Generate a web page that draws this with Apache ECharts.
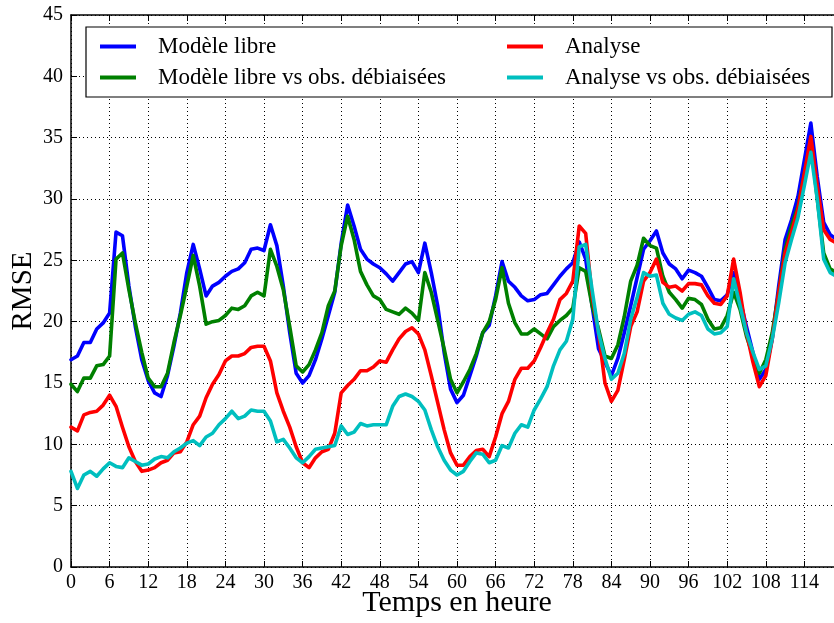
<!DOCTYPE html>
<html>
<head>
<meta charset="utf-8">
<script src="https://cdn.jsdelivr.net/npm/echarts@6/dist/echarts.min.js"></script>
<style>
  html, body { margin: 0; padding: 0; background: #fff; }
  #chart { width: 834px; height: 623px; }
</style>
</head>
<body>
<div id="chart"></div>
<script>
// RMSE par heure d'échéance (0 à 119 h)
const seriesNames = [
  'Modèle libre',
  'Modèle libre vs obs. débiaisées',
  'Analyse',
  'Analyse vs obs. débiaisées'
];
const xTitle = 'Temps en heure';
const yTitle = 'RMSE';

const modeleLibre = [
  16.9, 17.2, 18.3, 18.3, 19.4, 19.9, 20.7, 27.3, 27.0, 22.9,
  19.6, 16.9, 15.2, 14.2, 13.9, 15.6, 18.0, 20.7, 24.0, 26.3,
  24.3, 22.1, 22.9, 23.2, 23.7, 24.1, 24.3, 24.8, 25.9, 26.0,
  25.8, 27.9, 26.2, 22.9, 19.1, 15.8, 15.0, 15.6, 16.9, 18.6,
  20.5, 22.4, 26.4, 29.5, 27.8, 25.9, 25.1, 24.7, 24.4, 23.9,
  23.3, 24.0, 24.7, 24.9, 24.0, 26.4, 24.0, 21.3, 17.5, 14.5,
  13.4, 14.0, 15.6, 17.2, 19.1, 19.7, 22.1, 24.9, 23.3, 22.8,
  22.1, 21.7, 21.8, 22.2, 22.3, 23.0, 23.7, 24.3, 24.8, 26.5,
  25.1, 21.3, 17.8, 16.7, 15.6, 17.0, 19.1, 21.3, 23.6, 25.9,
  26.6, 27.4, 25.6, 24.7, 24.3, 23.5, 24.2, 24.0, 23.7, 22.8,
  21.8, 21.7, 22.2, 24.0, 21.8, 19.6, 17.5, 15.3, 16.1, 18.6,
  22.9, 26.7, 28.3, 30.2, 33.2, 36.2, 31.8, 28.1, 27.1, 26.7
];

const modeleLibreDeb = [
  14.9, 14.3, 15.4, 15.4, 16.4, 16.5, 17.2, 25.1, 25.6, 22.6,
  19.9, 17.5, 15.4, 14.7, 14.7, 15.8, 18.3, 20.5, 22.9, 25.4,
  22.9, 19.8, 20.0, 20.1, 20.5, 21.1, 21.0, 21.3, 22.1, 22.4,
  22.1, 25.9, 24.5, 22.6, 19.6, 16.4, 15.9, 16.5, 17.7, 19.1,
  21.3, 22.5, 26.2, 28.6, 26.7, 24.1, 23.0, 22.1, 21.8, 21.0,
  20.8, 20.6, 21.1, 20.7, 20.1, 24.0, 22.4, 20.1, 17.8, 15.3,
  14.2, 15.1, 16.1, 17.4, 19.1, 20.0, 21.8, 24.4, 21.5, 19.9,
  19.0, 19.0, 19.4, 19.0, 18.6, 19.6, 20.1, 20.5, 21.1, 24.4,
  24.1, 21.3, 19.4, 17.2, 17.0, 18.1, 20.4, 23.3, 24.6, 26.8,
  26.2, 26.0, 23.7, 22.4, 21.8, 21.1, 21.9, 21.8, 21.4, 20.2,
  19.4, 19.5, 20.5, 22.4, 21.0, 18.8, 17.2, 15.8, 16.9, 19.1,
  22.4, 25.9, 27.8, 29.4, 32.1, 34.8, 30.0, 25.6, 24.3, 24.0
];

const analyse = [
  11.4, 11.1, 12.4, 12.6, 12.7, 13.2, 14.0, 13.1, 11.4, 9.8,
  8.6, 7.8, 7.9, 8.1, 8.5, 8.7, 9.3, 9.4, 10.2, 11.6,
  12.3, 13.8, 14.9, 15.7, 16.8, 17.2, 17.2, 17.4, 17.9, 18.0,
  18.0, 16.8, 14.2, 12.7, 11.4, 9.8, 8.5, 8.1, 8.9, 9.4,
  9.6, 10.9, 14.2, 14.8, 15.3, 16.0, 16.0, 16.3, 16.8, 16.7,
  17.7, 18.6, 19.2, 19.5, 19.0, 17.7, 15.6, 13.4, 11.2, 9.3,
  8.3, 8.3, 9.0, 9.5, 9.6, 9.0, 10.6, 12.5, 13.5, 15.3,
  16.2, 16.2, 16.8, 17.9, 19.1, 20.2, 21.8, 22.3, 23.3, 27.8,
  27.2, 22.1, 19.1, 15.0, 13.5, 14.4, 16.9, 19.6, 20.8, 23.3,
  24.0, 25.1, 23.2, 22.8, 22.9, 22.5, 23.1, 23.1, 23.0, 22.1,
  21.5, 21.4, 22.1, 25.1, 22.4, 19.1, 16.7, 14.7, 15.6, 18.6,
  22.4, 25.6, 27.3, 29.2, 32.1, 35.1, 31.1, 27.5, 26.7, 26.4
];

const analyseDeb = [
  7.8, 6.4, 7.5, 7.8, 7.4, 8.0, 8.5, 8.2, 8.1, 8.9,
  8.6, 8.3, 8.4, 8.8, 9.0, 8.9, 9.4, 9.7, 10.1, 10.3,
  9.9, 10.6, 10.9, 11.6, 12.1, 12.7, 12.1, 12.3, 12.8, 12.7,
  12.7, 11.9, 10.2, 10.4, 9.7, 8.9, 8.5, 9.0, 9.6, 9.7,
  9.8, 9.9, 11.5, 10.8, 11.0, 11.7, 11.5, 11.6, 11.6, 11.6,
  13.1, 13.9, 14.1, 13.9, 13.5, 12.8, 11.2, 9.8, 8.7, 7.9,
  7.5, 7.8, 8.6, 9.3, 9.2, 8.5, 8.7, 9.9, 9.7, 10.9,
  11.6, 11.4, 12.8, 13.7, 14.7, 16.4, 17.7, 18.4, 20.2, 26.1,
  26.3, 22.6, 19.1, 17.0, 15.3, 15.8, 17.4, 20.2, 22.0, 24.0,
  23.7, 23.8, 21.5, 20.6, 20.3, 20.1, 20.6, 20.8, 20.5, 19.4,
  19.0, 19.1, 19.6, 23.5, 21.3, 19.1, 17.5, 16.1, 16.4, 18.6,
  21.5, 24.8, 26.7, 28.5, 31.1, 33.8, 30.0, 25.1, 24.0, 23.7
];

// Heures d'échéance associées aux valeurs (une par heure)
const hours = modeleLibre.map((_, i) => i);

const xTicks = { min: 0, max: 120, interval: 6 };
const yTicks = { min: 0, max: 45, interval: 5 };

const colors = ['#0000ff', '#008000', '#ff0000', '#00bfbf'];
const values = [modeleLibre, modeleLibreDeb, analyse, analyseDeb];

const FONT = '"Liberation Serif", "DejaVu Serif", serif';

const chart = echarts.init(document.getElementById('chart'), null, { renderer: 'canvas' });

const gridLine = { show: true, lineStyle: { color: '#000', width: 1, type: [1, 3] } };

const legendText = {
  fontFamily: FONT, fontSize: 23, color: '#000', lineHeight: 23,
  padding: [0, 0, 0, 17]
};

const option = {
  backgroundColor: '#fff',
  animation: false,
  grid: {
    left: 71, right: -9, top: 15, bottom: 56,
    containLabel: false, outerBoundsMode: 'none'
  },
  graphic: [
    {
      type: 'rect', z: 50,
      shape: { x: 86, y: 27, width: 746, height: 70 },
      style: { fill: '#fff', stroke: '#000', lineWidth: 1.2 }
    },
    {
      // titre de l'axe des abscisses
      type: 'text', x: 457, y: 603, z: 50,
      style: {
        text: xTitle, fontFamily: FONT, fontSize: 30, fill: '#000',
        align: 'center', verticalAlign: 'middle'
      }
    },
    {
      // titre de l'axe des ordonnées
      type: 'text', x: 23, y: 291, rotation: Math.PI / 2, z: 50,
      style: {
        text: yTitle, fontFamily: FONT, fontSize: 29, fill: '#000',
        align: 'center', verticalAlign: 'middle'
      }
    }
  ],
  legend: [
    {
      data: [seriesNames[0], seriesNames[1]],
      orient: 'vertical', left: 95, top: 30, itemGap: 8,
      icon: 'rect', itemWidth: 36, itemHeight: 4,
      textStyle: legendText, z: 60
    },
    {
      data: [seriesNames[2], seriesNames[3]],
      orient: 'vertical', left: 502, top: 30, itemGap: 8,
      icon: 'rect', itemWidth: 36, itemHeight: 4,
      textStyle: legendText, z: 60
    }
  ],
  xAxis: [
    {
      type: 'value', min: xTicks.min, max: xTicks.max, interval: xTicks.interval,
      axisLine: { show: true, onZero: false, lineStyle: { color: '#000', width: 1.5 } },
      axisTick: { show: true, inside: true, length: 6, lineStyle: { color: '#000', width: 1 } },
      axisLabel: { fontFamily: FONT, fontSize: 20, color: '#000', margin: 6, showMaxLabel: false },
      splitLine: gridLine
    },
    {
      type: 'value', position: 'top', min: xTicks.min, max: xTicks.max, interval: xTicks.interval,
      axisLine: { show: true, onZero: false, lineStyle: { color: '#000', width: 1.5 } },
      axisTick: { show: true, inside: true, length: 6, lineStyle: { color: '#000', width: 1 } },
      axisLabel: { show: false },
      splitLine: { show: false }
    }
  ],
  yAxis: {
    type: 'value', min: yTicks.min, max: yTicks.max, interval: yTicks.interval,
    axisLine: { show: true, onZero: false, lineStyle: { color: '#000', width: 1.5 } },
    axisTick: { show: true, inside: true, length: 6, lineStyle: { color: '#000', width: 1 } },
    axisLabel: { fontFamily: FONT, fontSize: 20, color: '#000', margin: 8 },
    splitLine: gridLine
  },
  series: values.map((vals, k) => ({
    name: seriesNames[k],
    type: 'line',
    xAxisIndex: 0,
    data: vals.map((v, i) => [hours[i], v]),
    showSymbol: false,
    symbol: 'none',
    color: colors[k],
    lineStyle: { color: colors[k], width: 3.6, join: 'round', cap: 'round' },
    z: 10 + k
  }))
};

chart.setOption(option);
</script>
</body>
</html>
